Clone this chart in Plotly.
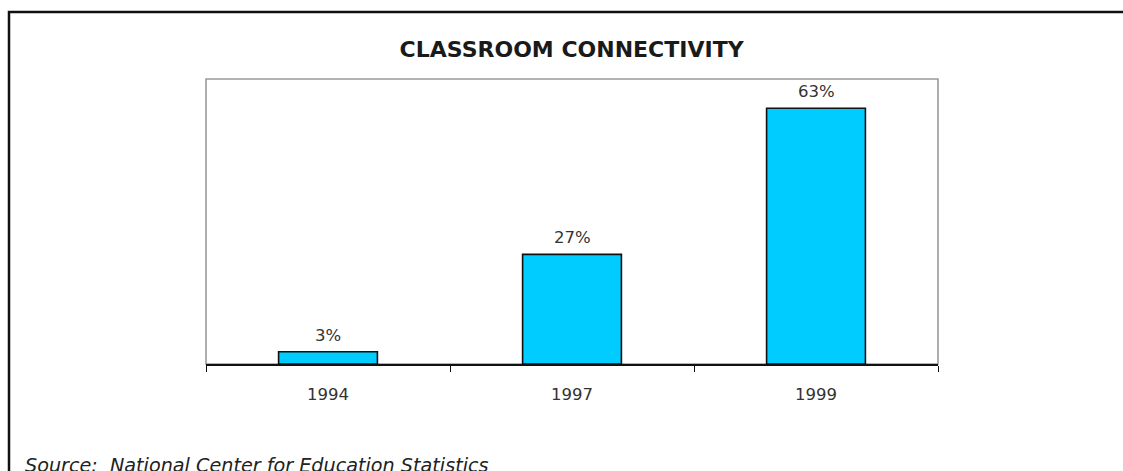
import plotly.graph_objects as go

# Share of public school instructional rooms with Internet access
years = ["1994", "1997", "1999"]
connected_pct = [3, 27, 63]
value_labels = [f"{v}%" for v in connected_pct]

W, H = 1123, 471
ML, MR, MT, MB = 206, 185, 79, 107
PW, PH = W - ML - MR, H - MT - MB

LABEL_FONT = dict(family="DejaVu Sans", size=16.5, color="#333333")


def px_x(px):
    return (px - ML) / PW


def px_y(py):
    return (H - MB - py) / PH


fig = go.Figure(
    go.Bar(
        x=years,
        y=connected_pct,
        width=0.405,
        marker=dict(color="#00CCFF", line=dict(color="#111111", width=1.6)),
        hoverinfo="skip",
    )
)

# value labels sitting above each bar (x given as category index)
annotations = [
    dict(x=i, y=v, xref="x", yref="y", text=lbl,
         xanchor="center", yanchor="bottom", yshift=5,
         showarrow=False, font=LABEL_FONT)
    for i, (v, lbl) in enumerate(zip(connected_pct, value_labels))
]
annotations.append(
    dict(
        text="<i>Source:  National Center for Education Statistics</i>",
        xref="paper", yref="paper",
        x=px_x(23), y=px_y(452),
        xanchor="left", yanchor="top",
        showarrow=False,
        font=dict(family="DejaVu Sans", size=19.2, color="#222222"),
    )
)

# outer page frame: one open path along the left and top edges
frame_path = "M {x0},{y1} L {x0},{y0} L {x1},{y0}".format(
    x0=px_x(9), y0=px_y(12), x1=px_x(W + 10), y1=px_y(H + 10)
)

shapes = [
    # gray frame of the plotting area
    dict(type="rect", xref="paper", yref="paper", x0=0, x1=1, y0=0, y1=1,
         line=dict(color="#999999", width=1.6), layer="below"),
    dict(type="path", xref="paper", yref="paper", path=frame_path,
         line=dict(color="#111111", width=2.5)),
]

fig.update_layout(
    width=W,
    height=H,
    margin=dict(l=ML, r=MR, t=MT, b=MB, pad=0),
    paper_bgcolor="white",
    plot_bgcolor="white",
    showlegend=False,
    title=dict(
        text="<b>CLASSROOM CONNECTIVITY</b>",
        x=0.509,
        xanchor="center",
        y=1 - 49 / H,
        yanchor="middle",
        font=dict(family="DejaVu Sans", size=22, color="#1a1a1a"),
    ),
    xaxis=dict(
        type="category",
        range=[-0.5, 2.5],
        showline=True,
        linecolor="#111111",
        linewidth=1.6,
        ticks="outside",
        tickson="boundaries",
        ticklen=6,
        tickwidth=1.4,
        tickcolor="#111111",
        ticklabelstandoff=14,
        tickfont=LABEL_FONT,
        showgrid=False,
        zeroline=False,
        fixedrange=True,
    ),
    yaxis=dict(
        range=[0, 70.2],
        visible=False,
        showgrid=False,
        zeroline=False,
        fixedrange=True,
    ),
    shapes=shapes,
    annotations=annotations,
)

fig.write_html("out.html")
